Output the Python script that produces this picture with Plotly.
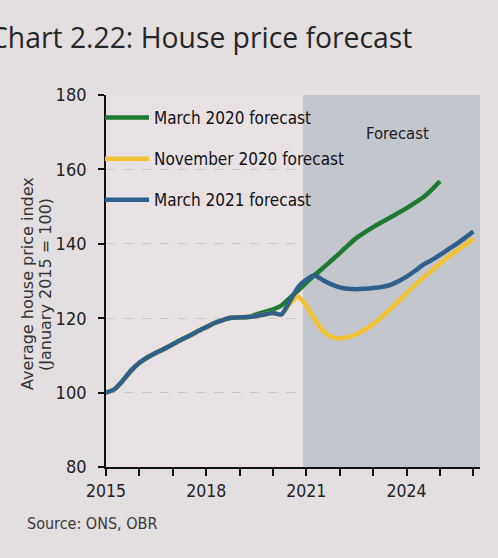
import plotly.graph_objects as go

# ---------------- data ----------------
history_x = [2015.0, 2015.25, 2015.5, 2015.75, 2016.0, 2016.25, 2016.5, 2016.75,
             2017.0, 2017.25, 2017.5, 2017.75, 2018.0, 2018.25, 2018.5, 2018.75,
             2019.0, 2019.25]
history_values = [100.0, 100.9, 103.2, 105.9, 108.0, 109.5, 110.7, 111.8,
                  113.0, 114.2, 115.3, 116.5, 117.6, 118.7, 119.5, 120.1,
                  120.2, 120.3]

march2020_x = [2019.5, 2019.75, 2020.0, 2020.25, 2020.5, 2020.75, 2021.0, 2021.25,
               2021.5, 2021.75, 2022.0, 2022.25, 2022.5, 2022.75, 2023.0, 2023.25,
               2023.5, 2023.75, 2024.0, 2024.25, 2024.5, 2024.75, 2025.0]
march2020_values = [121.0, 121.7, 122.4, 123.4, 125.4, 127.4, 129.6, 131.6,
                    133.5, 135.5, 137.5, 139.6, 141.6, 143.1, 144.5, 145.8,
                    147.0, 148.3, 149.6, 151.0, 152.5, 154.5, 156.8]

late_x = [2019.5, 2019.75, 2020.0, 2020.25, 2020.5, 2020.75, 2021.0, 2021.25,
          2021.5, 2021.75, 2022.0, 2022.25, 2022.5, 2022.75, 2023.0, 2023.25,
          2023.5, 2023.75, 2024.0, 2024.25, 2024.5, 2024.75, 2025.0, 2025.25,
          2025.5, 2025.75, 2026.0]
november2020_values = [120.6, 121.0, 121.4, 121.0, 123.8, 125.8, 123.3, 119.7,
                       116.6, 115.0, 114.6, 114.9, 115.7, 116.9, 118.4, 120.3,
                       122.4, 124.5, 126.7, 128.9, 130.9, 132.8, 134.7, 136.5,
                       138.1, 139.7, 141.4]
march2021_values = [120.6, 121.0, 121.4, 121.0, 124.5, 128.3, 130.4, 131.5,
                    130.2, 129.1, 128.3, 127.9, 127.8, 127.9, 128.1, 128.4,
                    128.9, 129.9, 131.2, 132.7, 134.4, 135.6, 137.0, 138.5,
                    140.0, 141.6, 143.3]

series_names = ["March 2020 forecast", "November 2020 forecast", "March 2021 forecast"]
series_colors = ["#1d7a30", "#f3c232", "#2f5f8b"]

forecast_start = 2020.9
x_range = [2015, 2026.2]
y_range = [80, 180]
year_ticks = list(range(2015, 2027))
year_labels = [str(y) if y in (2015, 2018, 2021, 2024) else "" for y in year_ticks]
y_ticks = [80, 100, 120, 140, 160, 180]
y_title_lines = ["Average house price index", "(January 2015 = 100)"]

# ---------------- figure ----------------
W, H = 498, 558
ML, MR, MT, MB = 106, 18, 95, 91
PW, PH = W - ML - MR, H - MT - MB

def px_x(p):
    return (p - ML) / PW

def px_y(p):
    return (H - MB - p) / PH

NARROW = "Liberation Sans Narrow, Arial Narrow, DejaVu Sans Condensed, sans-serif"
BG = "#e3dee0"

fig = go.Figure()
series_x = [history_x + march2020_x, history_x + late_x, history_x + late_x]
series_y = [history_values + march2020_values,
            history_values + november2020_values,
            history_values + march2021_values]
for i, name in enumerate(series_names):
    fig.add_trace(go.Scatter(
        x=series_x[i], y=series_y[i], mode="lines", name=name,
        legendgroup=f"g{i}",
        line=dict(color=series_colors[i], width=4.5, shape="spline", smoothing=0.6),
        hoverinfo="skip",
    ))

fig.add_shape(type="rect", xref="x", yref="paper", x0=forecast_start, x1=x_range[1],
              y0=0, y1=1, fillcolor="#c4c6ce", line_width=0, layer="between")

fig.add_annotation(text="Forecast", xref="paper", yref="paper",
                   x=px_x(397), y=px_y(133), xanchor="center", yanchor="middle",
                   showarrow=False,
                   font=dict(family=NARROW, size=16.5, color="#1a1a1a"))

fig.add_annotation(text="Chart 2.22: House price forecast", xref="paper", yref="paper",
                   x=px_x(-12), y=px_y(37), xanchor="left", yanchor="middle",
                   showarrow=False,
                   font=dict(family="Open Sans, Liberation Sans, sans-serif", size=28.3,
                             color="#262626"))

fig.add_annotation(text="Source: ONS, OBR", xref="paper", yref="paper",
                   x=px_x(25), y=px_y(523), xanchor="left", yanchor="middle",
                   showarrow=False,
                   font=dict(family=NARROW, size=16, color="#3a3a3a"))

for line_text, cx in zip(y_title_lines, [27, 45]):
    fig.add_annotation(text=line_text, xref="paper", yref="paper",
                       x=px_x(cx), y=px_y(284), xanchor="center", yanchor="middle",
                       textangle=-90, showarrow=False,
                       font=dict(family="DejaVu Sans, sans-serif", size=16,
                                 color="#333333"))

fig.update_layout(
    width=W, height=H,
    margin=dict(l=ML, r=MR, t=MT, b=MB, pad=0),
    paper_bgcolor=BG,
    plot_bgcolor="#e7e1e4",
    showlegend=True,
    legend=dict(x=px_x(100), y=px_y(100), xanchor="left", yanchor="top",
                bgcolor="rgba(0,0,0,0)", itemwidth=44, tracegroupgap=16,
                font=dict(family=NARROW, size=17, color="#111111")),
    xaxis=dict(range=x_range, tickmode="array", tickvals=year_ticks, ticktext=year_labels,
               showgrid=False, zeroline=False, showline=True, linecolor="#111111",
               linewidth=1.8, ticks="outside", ticklen=7, tickwidth=1.5,
               tickcolor="#111111",
               tickfont=dict(family=NARROW, size=17.5, color="#222222")),
    yaxis=dict(range=y_range, tickmode="array", tickvals=y_ticks,
               showgrid=True, gridcolor="#c9c3c6", griddash="dash", gridwidth=1,
               zeroline=False, showline=True, linecolor="#111111", linewidth=1.8,
               ticks="outside", ticklen=6, tickwidth=1.5, tickcolor="#111111",
               ticklabelstandoff=8,
               tickfont=dict(family=NARROW, size=18, color="#222222")),
)

fig.write_html("out.html",
               config={"displayModeBar": False},
               post_script=f"document.body.style.margin='0';"
                           f"document.body.style.background='{BG}';")
